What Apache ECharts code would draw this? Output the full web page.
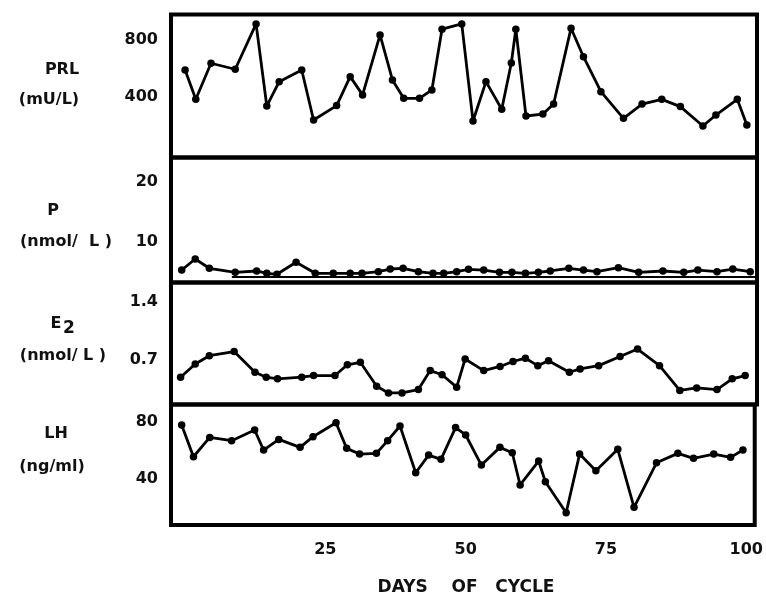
<!DOCTYPE html>
<html>
<head>
<meta charset="utf-8">
<script src="https://cdn.jsdelivr.net/npm/echarts@6/dist/echarts.min.js"></script>
<style>
  html, body { margin: 0; padding: 0; background: #fff; }
  #chart { width: 766px; height: 599px; }
</style>
</head>
<body>
<div id="chart"></div>
<script>
// Hormone profile across one long cycle (day of sampling vs. level)
const prlDays = [0.0, 1.9, 4.6, 8.9, 12.6, 14.5, 16.7, 20.7, 22.8, 26.9, 29.3, 31.5, 34.6, 36.8, 38.8, 41.6, 43.8, 45.6, 49.1, 51.1, 53.4, 56.2, 57.9, 58.7, 60.5, 63.5, 65.4, 68.5, 70.7, 73.8, 77.8, 81.1, 84.6, 87.9, 91.9, 94.2, 98.0, 99.7];
const prlValues = [586, 380, 633, 591, 909, 333, 504, 586, 235, 336, 539, 411, 832, 516, 387, 387, 446, 872, 909, 228, 504, 310, 635, 872, 263, 277, 347, 879, 679, 434, 247, 347, 380, 329, 193, 270, 380, 200];

const pDays = [-0.6, 1.8, 4.3, 8.9, 12.7, 14.5, 16.3, 19.7, 23.1, 26.3, 29.3, 31.4, 34.3, 36.4, 38.7, 41.4, 44.0, 45.9, 48.2, 50.3, 53.0, 55.8, 58.0, 60.4, 62.7, 64.8, 68.1, 70.7, 73.1, 76.9, 80.5, 84.8, 88.5, 91.0, 94.4, 97.2, 100.3];
const pValues = [5.33, 7.17, 5.62, 4.95, 5.17, 4.78, 4.62, 6.62, 4.78, 4.78, 4.78, 4.78, 5.05, 5.5, 5.62, 5.05, 4.78, 4.78, 5.05, 5.45, 5.33, 4.95, 4.95, 4.78, 4.95, 5.17, 5.62, 5.33, 5.05, 5.72, 4.95, 5.17, 4.95, 5.33, 5.05, 5.5, 5.05];
// lower reference line in the P panel
const pBaseDays = [8.3, 101.5];
const pBaseValues = [4.17, 4.17];

const e2Days = [-0.8, 1.8, 4.3, 8.7, 12.4, 14.4, 16.4, 20.7, 22.8, 26.6, 28.8, 31.1, 34.0, 36.1, 38.5, 41.4, 43.5, 45.6, 48.2, 49.7, 53.0, 55.9, 58.2, 60.4, 62.6, 64.5, 68.2, 70.1, 73.4, 77.2, 80.3, 84.2, 87.8, 90.8, 94.4, 97.1, 99.4];
const e2Values = [0.49, 0.65, 0.75, 0.80, 0.55, 0.49, 0.47, 0.49, 0.51, 0.51, 0.64, 0.67, 0.38, 0.30, 0.30, 0.34, 0.57, 0.52, 0.37, 0.71, 0.57, 0.62, 0.68, 0.72, 0.63, 0.69, 0.55, 0.59, 0.63, 0.74, 0.83, 0.63, 0.33, 0.36, 0.34, 0.47, 0.51];

const lhDays = [-0.6, 1.5, 4.4, 8.3, 12.4, 14.0, 16.7, 20.5, 22.8, 26.9, 28.8, 31.1, 34.1, 36.1, 38.3, 41.1, 43.4, 45.6, 48.2, 50.0, 52.8, 56.1, 58.3, 59.7, 63.0, 64.2, 67.9, 70.3, 73.2, 77.1, 80.0, 84.0, 87.8, 90.6, 94.2, 97.2, 99.4];
const lhValues = [77.9, 55.6, 69.2, 66.9, 74.4, 60.3, 67.8, 62.2, 69.7, 79.5, 61.5, 57.5, 58.0, 66.9, 77.2, 44.4, 56.8, 53.8, 76.1, 70.9, 49.8, 62.2, 58.4, 35.8, 52.6, 38.1, 16.3, 57.5, 45.8, 60.8, 20.1, 51.4, 58.0, 54.5, 57.5, 55.2, 60.3];

// tick labels
const dayTicks = [25, 50, 75, 100];
const prlTicks = [400, 800];
const pTicks = [10, 20];
const e2Ticks = [0.7, 1.4];
const lhTicks = [40, 80];

const FONT = '"DejaVu Sans", "Liberation Sans", sans-serif';
const INK = '#111';

const pair = (xs, ys) => xs.map((x, i) => [x, ys[i]]);

const panels = [
  { top: 14.5,  height: 143,   min: -28,  max: 975,   ticks: prlTicks, series: [{ data: pair(prlDays, prlValues) }] },
  { top: 157.5, height: 125,   min: 3.25, max: 24.1,  ticks: pTicks,   series: [{ data: pair(pDays, pValues) }, { data: pair(pBaseDays, pBaseValues), base: true }] },
  { top: 282.5, height: 122,   min: 0.16, max: 1.635, ticks: e2Ticks,  series: [{ data: pair(e2Days, e2Values) }] },
  { top: 404.5, height: 120.5, min: 7.7,  max: 92.3,  ticks: lhTicks,  series: [{ data: pair(lhDays, lhValues) }] }
];

const grid = [], xAxis = [], yAxis = [], series = [];
panels.forEach((p, i) => {
  grid.push({
    left: 171, width: 586, top: p.top, height: p.height,
    show: true, borderColor: '#000', borderWidth: 4, backgroundColor: 'transparent'
  });
  const last = i === panels.length - 1;
  xAxis.push({
    type: 'value', gridIndex: i, min: -2.5, max: 101.5,
    axisLine: { show: false }, axisTick: { show: false }, splitLine: { show: false },
    axisLabel: {
      show: last, customValues: dayTicks, margin: 17,
      fontFamily: FONT, fontWeight: 'bold', fontSize: 16, color: INK
    }
  });
  yAxis.push({
    type: 'value', gridIndex: i, min: p.min, max: p.max,
    axisLine: { show: false }, axisTick: { show: false }, splitLine: { show: false },
    axisLabel: {
      customValues: p.ticks, margin: 13,
      fontFamily: FONT, fontWeight: 'bold', fontSize: 16, color: INK
    }
  });
  p.series.forEach(s => {
    series.push({
      type: 'line', xAxisIndex: i, yAxisIndex: i, data: s.data,
      symbol: s.base ? 'none' : 'circle', symbolSize: 7.5,
      lineStyle: { color: '#000', width: s.base ? 2 : 2.8 },
      itemStyle: { color: '#000' },
      silent: true, z: s.base ? 2 : 3
    });
  });
});

const label = (text, x, y, size) => ({
  type: 'text', x: x, y: y,
  style: {
    text: text, fill: INK, align: 'center', verticalAlign: 'middle',
    font: 'bold ' + (size || 16) + 'px ' + FONT
  }
});

const chart = echarts.init(document.getElementById('chart'), null, { renderer: 'canvas' });
chart.setOption({
  backgroundColor: '#fff',
  animation: false,
  grid, xAxis, yAxis, series,
  graphic: [
    label('PRL', 62, 70),
    label('(mU/L)', 49, 100),
    label('P', 53, 211),
    label('(nmol/  L )', 66, 242),
    label('E', 56, 324),
    label('2', 69, 329, 17),
    label('(nmol/ L )', 63, 356),
    label('LH', 56, 434),
    label('(ng/ml)', 52, 467),
    label('DAYS    OF   CYCLE', 466, 588, 17)
  ]
});
</script>
</body>
</html>
